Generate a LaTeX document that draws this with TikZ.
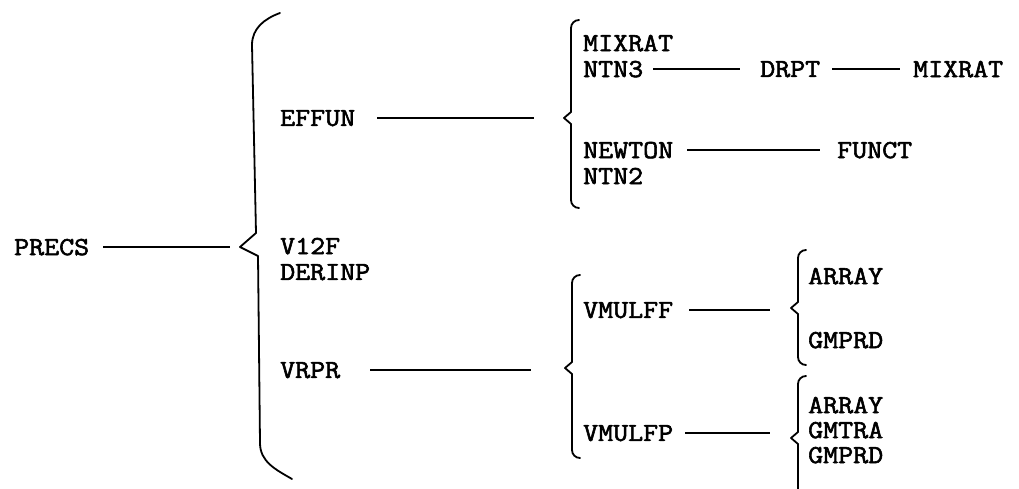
\documentclass[tikz,border=0pt]{standalone}
\usepackage{fontspec}
\setmonofont[FakeBold=2.2, FakeStretch=1.12]{Latin Modern Mono}
\tikzset{
  lbl/.style={font=\ttfamily\fontsize{26}{30}\selectfont, inner sep=0pt, anchor=west, text depth=0pt},
  conn/.style={line width=1.8pt},
  br/.style={line width=1.8pt, line join=round, line cap=round},
}
\newcommand{\mybrace}[5]{%
  \draw[br] (#1+8,#2) to[out=180,in=90] (#1,#2+8) -- (#1,#3-6) -- (#1-7,#3) -- (#1,#3+6) -- (#1,#4-8) to[out=-90,in=180] (#1+8,#4);
  \coordinate (#5) at (#1-7,#3);}
\begin{document}
\begin{tikzpicture}[x=1pt,y=-1pt]
\useasboundingbox (0,0) rectangle (1019,489);
% root
\node[lbl] (precs) at (14,247) {PRECS};
% big brace
\draw[br] (280,13) to[out=200,in=90] (252,45) -- (256,233) -- (240,247) -- (258,256) -- (260,443) to[out=-90,in=150] (292,479);
\coordinate (b1) at (240,247);
% level 2
\node[lbl] (effun) at (280,118) {EFFUN};
\node[lbl] (v12f) at (280,246) {V12F};
\node[lbl] (derinp) at (280,272) {DERINP};
\node[lbl] (vrpr) at (280,370) {VRPR};
% EFFUN children
\mybrace{571}{20}{118}{208}{b2}
\node[lbl] (mixrat1) at (583,43) {MIXRAT};
\node[lbl] (ntn3) at (583,69) {NTN3};
\node[lbl] (drpt) at (760,69) {DRPT};
\node[lbl] (mixrat2) at (913,69) {MIXRAT};
\node[lbl] (newton) at (583,150) {NEWTON};
\node[lbl] (funct) at (837,150) {FUNCT};
\node[lbl] (ntn2) at (583,176) {NTN2};
% VRPR children
\mybrace{572}{275}{368}{458}{b3}
\node[lbl] (vmulff) at (583,310) {VMULFF};
\node[lbl] (vmulfp) at (583,433) {VMULFP};
% VMULFF children
\mybrace{798}{250}{308}{365}{b4}
\node[lbl] (array1) at (808,276) {ARRAY};
\node[lbl] (gmprd1) at (808,340) {GMPRD};
% VMULFP children
\draw[br] (806,376) to[out=180,in=90] (798,384) -- (798,432) -- (791,438) -- (798,444) -- (798,489);
\coordinate (b5) at (791,438);
\node[lbl] (array2) at (808,405) {ARRAY};
\node[lbl] (gmtra) at (808,430) {GMTRA};
\node[lbl] (gmprd2) at (808,455) {GMPRD};
% connectors
\draw[conn, shorten <=14pt, shorten >=10pt] (precs.east) -- (b1);
\draw[conn, shorten <=22pt, shorten >=30pt] (effun.east) -- (effun.east -| b2);
\draw[conn, shorten <=10pt, shorten >=20pt] (ntn3) -- (drpt);
\draw[conn, shorten <=12pt, shorten >=13pt] (drpt) -- (mixrat2);
\draw[conn, shorten <=14pt, shorten >=17pt] (newton) -- (funct);
\draw[conn, shorten <=30pt, shorten >=34pt] (vrpr.east) -- (vrpr.east -| b3);
\draw[conn, shorten <=16pt, shorten >=21pt] (vmulff.east) -- (vmulff.east -| b4);
\draw[conn, shorten <=12pt, shorten >=21pt] (vmulfp.east) -- (vmulfp.east -| b5);
\end{tikzpicture}
\end{document}
